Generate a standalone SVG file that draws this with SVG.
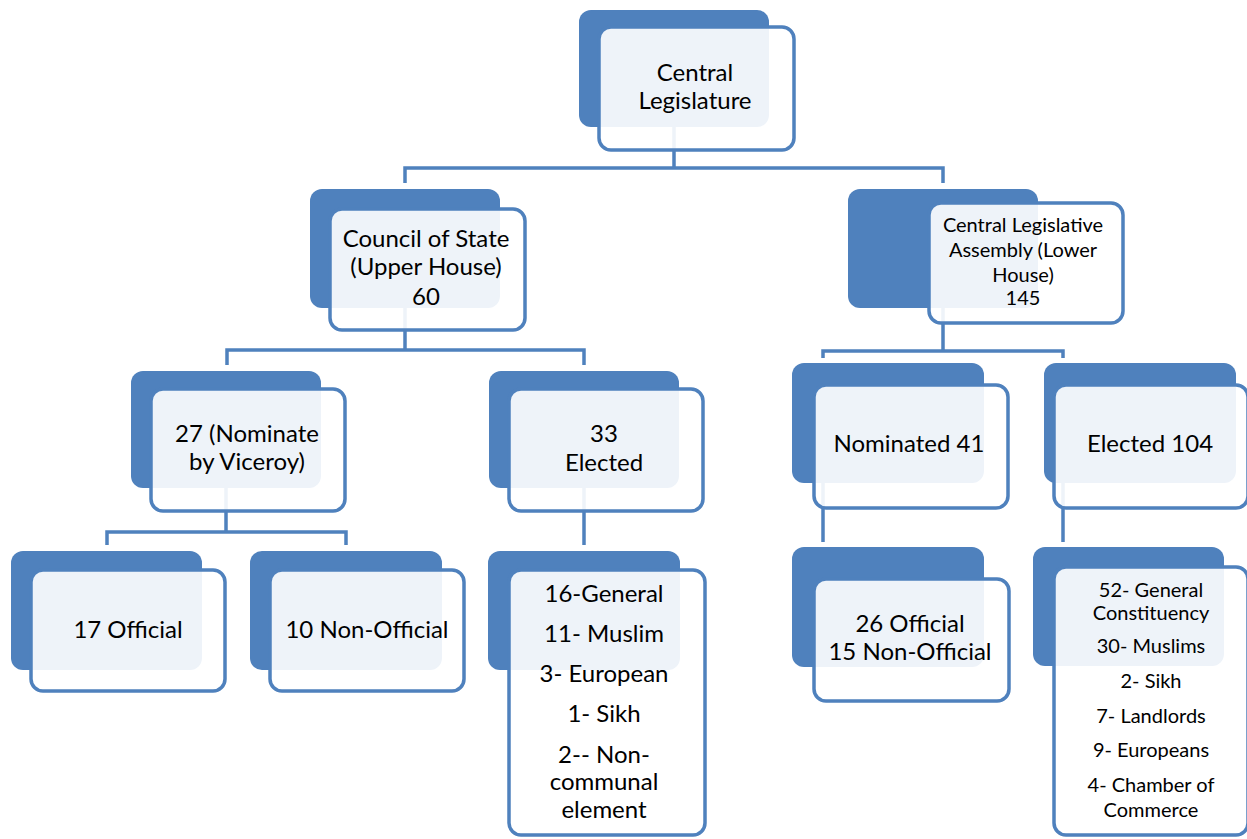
<svg xmlns="http://www.w3.org/2000/svg" width="1247" height="839" viewBox="0 0 1247 839">
<style>
.bk{fill:#4F81BD}
.fr{fill:#FFFFFF;fill-opacity:0.9;stroke:#4F81BD;stroke-width:3.5}
.cn{fill:none;stroke:#4F81BD;stroke-width:3.5;stroke-linejoin:miter}
text{font-family:Lato,"Open Sans","Liberation Sans",sans-serif;font-size:24px;fill:#000;text-anchor:middle}
text.s{font-size:20px}
</style>
<rect width="1247" height="839" fill="#FFFFFF"/>
<g id="connectors">
<path class="cn" d="M674,127 V168 M405,183 V168 H943 V183"/>
<path class="cn" d="M405,308 V350 M227,365 V350 H584 V365"/>
<path class="cn" d="M943,308 V351 M823,358 V351 H1063 V358"/>
<path class="cn" d="M226,488 V532 M107,545 V532 H346 V545"/>
<path class="cn" d="M584,488 V545"/>
<path class="cn" d="M823,483 V542"/>
<path class="cn" d="M1063,483 V542"/>
</g>
<g id="n-central">
<rect class="bk" x="579" y="10" width="190" height="117" rx="12"/>
<rect class="fr" x="599" y="27" width="195" height="123" rx="12"/>
<text x="695" y="81">Central</text>
<text x="695" y="109">Legislature</text>
</g>
<g id="n-council">
<rect class="bk" x="310" y="189" width="190" height="119" rx="12"/>
<rect class="fr" x="330" y="209" width="195" height="121" rx="12"/>
<text x="426" y="247">Council of State</text>
<text x="426" y="275">(Upper House)</text>
<text x="426" y="305">60</text>
</g>
<g id="n-assembly">
<rect class="bk" x="848" y="189" width="190" height="119" rx="12"/>
<rect class="fr" x="929" y="203" width="194" height="120" rx="12"/>
<text class="s" x="1023" y="232">Central Legislative</text>
<text class="s" x="1023" y="257">Assembly (Lower</text>
<text class="s" x="1023" y="282">House)</text>
<text class="s" x="1023" y="305">145</text>
</g>
<g id="n-nominate27">
<rect class="bk" x="131" y="371" width="190" height="117" rx="12"/>
<rect class="fr" x="151" y="389" width="194" height="122" rx="12"/>
<text x="247" y="442">27 (Nominate</text>
<text x="247" y="470">by Viceroy)</text>
</g>
<g id="n-elected33">
<rect class="bk" x="489" y="371" width="190" height="117" rx="12"/>
<rect class="fr" x="509" y="389" width="194" height="122" rx="12"/>
<text x="604" y="442">33</text>
<text x="604" y="471">Elected</text>
</g>
<g id="n-nominated41">
<rect class="bk" x="792" y="363" width="192" height="120" rx="12"/>
<rect class="fr" x="814" y="385" width="194" height="123" rx="12"/>
<text x="909" y="452">Nominated 41</text>
</g>
<g id="n-elected104">
<rect class="bk" x="1044" y="363" width="192" height="120" rx="12"/>
<rect class="fr" x="1054" y="385" width="194" height="123" rx="12"/>
<text x="1150" y="452">Elected 104</text>
</g>
<g id="n-official17">
<rect class="bk" x="11" y="551" width="191" height="119" rx="12"/>
<rect class="fr" x="31" y="570" width="194" height="121" rx="12"/>
<text x="128" y="638">17 Official</text>
</g>
<g id="n-nonofficial10">
<rect class="bk" x="250" y="551" width="192" height="119" rx="12"/>
<rect class="fr" x="270" y="570" width="194" height="121" rx="12"/>
<text x="367" y="638">10 Non-Official</text>
</g>
<g id="n-elected33-breakdown">
<rect class="bk" x="488" y="551" width="192" height="119" rx="12"/>
<rect class="fr" x="509" y="570" width="196" height="265" rx="12"/>
<text x="604" y="602">16-General</text>
<text x="604" y="642">11- Muslim</text>
<text x="604" y="682">3- European</text>
<text x="604" y="722">1- Sikh</text>
<text x="604" y="763">2-- Non-</text>
<text x="604" y="790">communal</text>
<text x="604" y="818">element</text>
</g>
<g id="n-official26">
<rect class="bk" x="792" y="547" width="192" height="120" rx="12"/>
<rect class="fr" x="814" y="579" width="195" height="122" rx="12"/>
<text x="910" y="632">26 Official</text>
<text x="910" y="660">15 Non-Official</text>
</g>
<g id="n-elected104-breakdown">
<rect class="bk" x="1033" y="547" width="191" height="119" rx="12"/>
<rect class="fr" x="1054" y="567" width="194" height="268" rx="12"/>
<text class="s" x="1151" y="597">52- General</text>
<text class="s" x="1151" y="620">Constituency</text>
<text class="s" x="1151" y="653">30- Muslims</text>
<text class="s" x="1151" y="688">2- Sikh</text>
<text class="s" x="1151" y="723">7- Landlords</text>
<text class="s" x="1151" y="757">9- Europeans</text>
<text class="s" x="1151" y="792">4- Chamber of</text>
<text class="s" x="1151" y="817">Commerce</text>
</g>
</svg>
